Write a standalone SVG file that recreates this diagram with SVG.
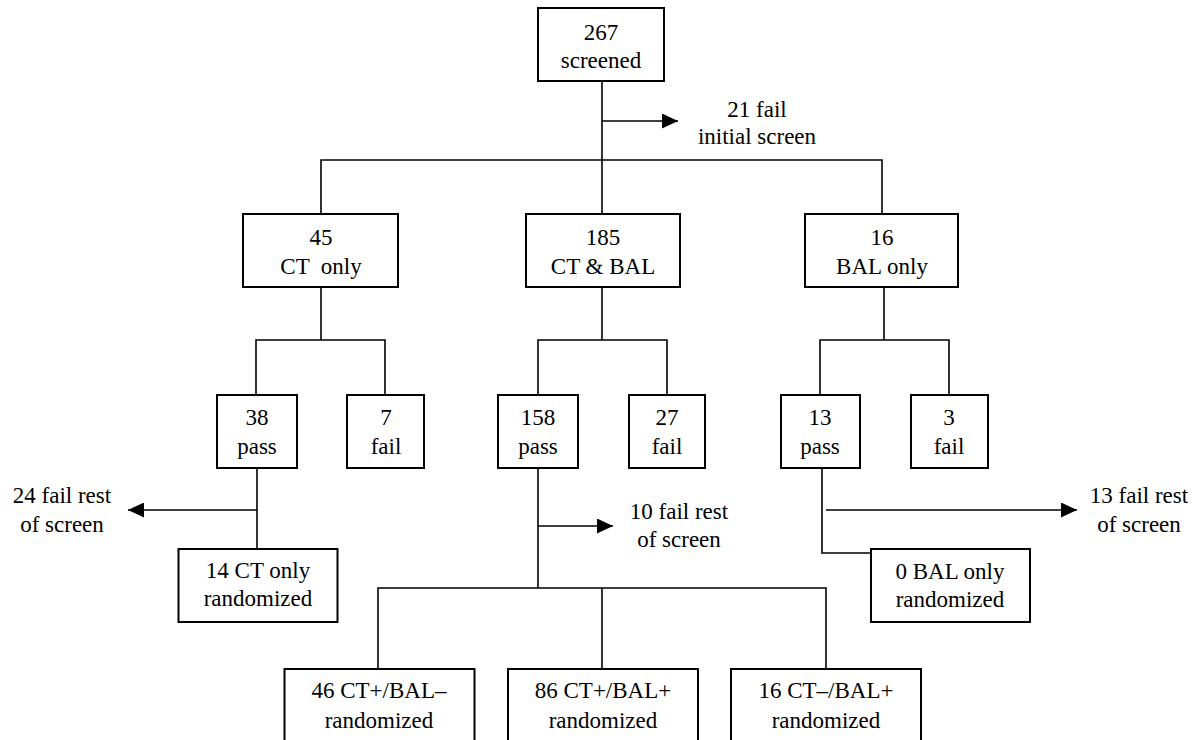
<svg xmlns="http://www.w3.org/2000/svg" width="1201" height="740" viewBox="0 0 1201 740">
<style>
text{font-family:"Liberation Serif","Times New Roman",serif;font-size:23px;fill:#000;text-anchor:middle}
.box{fill:#fff;stroke:#000;stroke-width:2}
.ln{fill:none;stroke:#000;stroke-width:1.6}
</style>
<defs>
<marker id="ah" markerUnits="userSpaceOnUse" markerWidth="16" markerHeight="15" refX="16" refY="7.5" orient="auto">
<path d="M0,0 L16,7.5 L0,15 z" fill="#000"/>
</marker>
</defs>
<rect width="1201" height="740" fill="#fff"/>
<g id="connectors">
<path class="ln" d="M602,81 V214"/>
<path class="ln" d="M602,121 H678" marker-end="url(#ah)"/>
<path class="ln" d="M321,214 V160 H882 V214"/>
<path class="ln" d="M321,287 V340"/>
<path class="ln" d="M256,395 V340 H385 V395"/>
<path class="ln" d="M602,287 V340"/>
<path class="ln" d="M538,395 V340 H667 V395"/>
<path class="ln" d="M884,287 V340"/>
<path class="ln" d="M820,395 V340 H949 V395"/>
<path class="ln" d="M257,468 V549"/>
<path class="ln" d="M257,510 H128" marker-end="url(#ah)"/>
<path class="ln" d="M538,468 V588"/>
<path class="ln" d="M538,526 H613" marker-end="url(#ah)"/>
<path class="ln" d="M378,669 V588 H826 V669"/>
<path class="ln" d="M602,588 V669"/>
<path class="ln" d="M822,468 V553 H871"/>
<path class="ln" d="M826,510 H1077" marker-end="url(#ah)"/>
</g>
<g id="screened"><rect class="box" x="538" y="8" width="126" height="73"/><text x="601" y="39.5">267</text><text x="601" y="67.5">screened</text></g>
<g id="fail-initial"><text x="757" y="117">21 fail</text><text x="757" y="144">initial screen</text></g>
<g id="ct-only"><rect class="box" x="243" y="214" width="155" height="73"/><text x="321" y="245">45</text><text x="321" y="274" xml:space="preserve">CT  only</text></g>
<g id="ct-bal"><rect class="box" x="526" y="214" width="154" height="73"/><text x="603" y="245">185</text><text x="603" y="274">CT &amp; BAL</text></g>
<g id="bal-only"><rect class="box" x="805" y="214" width="153" height="73"/><text x="882" y="245">16</text><text x="882" y="274">BAL only</text></g>
<g id="ct-pass"><rect class="box" x="217" y="395" width="80" height="73"/><text x="257" y="425">38</text><text x="257" y="454">pass</text></g>
<g id="ct-fail"><rect class="box" x="347" y="395" width="77" height="73"/><text x="386" y="425">7</text><text x="386" y="454">fail</text></g>
<g id="ctbal-pass"><rect class="box" x="498" y="395" width="80" height="73"/><text x="538" y="425">158</text><text x="538" y="454">pass</text></g>
<g id="ctbal-fail"><rect class="box" x="629" y="395" width="76" height="73"/><text x="667" y="425">27</text><text x="667" y="454">fail</text></g>
<g id="bal-pass"><rect class="box" x="781" y="395" width="79" height="73"/><text x="820" y="425">13</text><text x="820" y="454">pass</text></g>
<g id="bal-fail"><rect class="box" x="911" y="395" width="77" height="73"/><text x="949" y="425">3</text><text x="949" y="454">fail</text></g>
<g id="fail-rest-24"><text x="62" y="503">24 fail rest</text><text x="62" y="532">of screen</text></g>
<g id="fail-rest-10"><text x="679" y="519">10 fail rest</text><text x="679" y="547">of screen</text></g>
<g id="fail-rest-13"><text x="1139" y="503">13 fail rest</text><text x="1139" y="532">of screen</text></g>
<g id="ct-rand"><rect class="box" x="178.5" y="549" width="159" height="73"/><text x="258" y="578">14 CT only</text><text x="258" y="606">randomized</text></g>
<g id="bal-rand"><rect class="box" x="871" y="549" width="159" height="73"/><text x="950" y="579">0 BAL only</text><text x="950" y="607">randomized</text></g>
<g id="ctpos-balneg"><rect class="box" x="284.5" y="669" width="190" height="73"/><text x="379" y="698">46 CT+/BAL–</text><text x="379" y="728">randomized</text></g>
<g id="ctpos-balpos"><rect class="box" x="508" y="669" width="190" height="73"/><text x="603" y="698">86 CT+/BAL+</text><text x="603" y="728">randomized</text></g>
<g id="ctneg-balpos"><rect class="box" x="731" y="669" width="190" height="73"/><text x="826" y="698">16 CT–/BAL+</text><text x="826" y="728">randomized</text></g>
</svg>
